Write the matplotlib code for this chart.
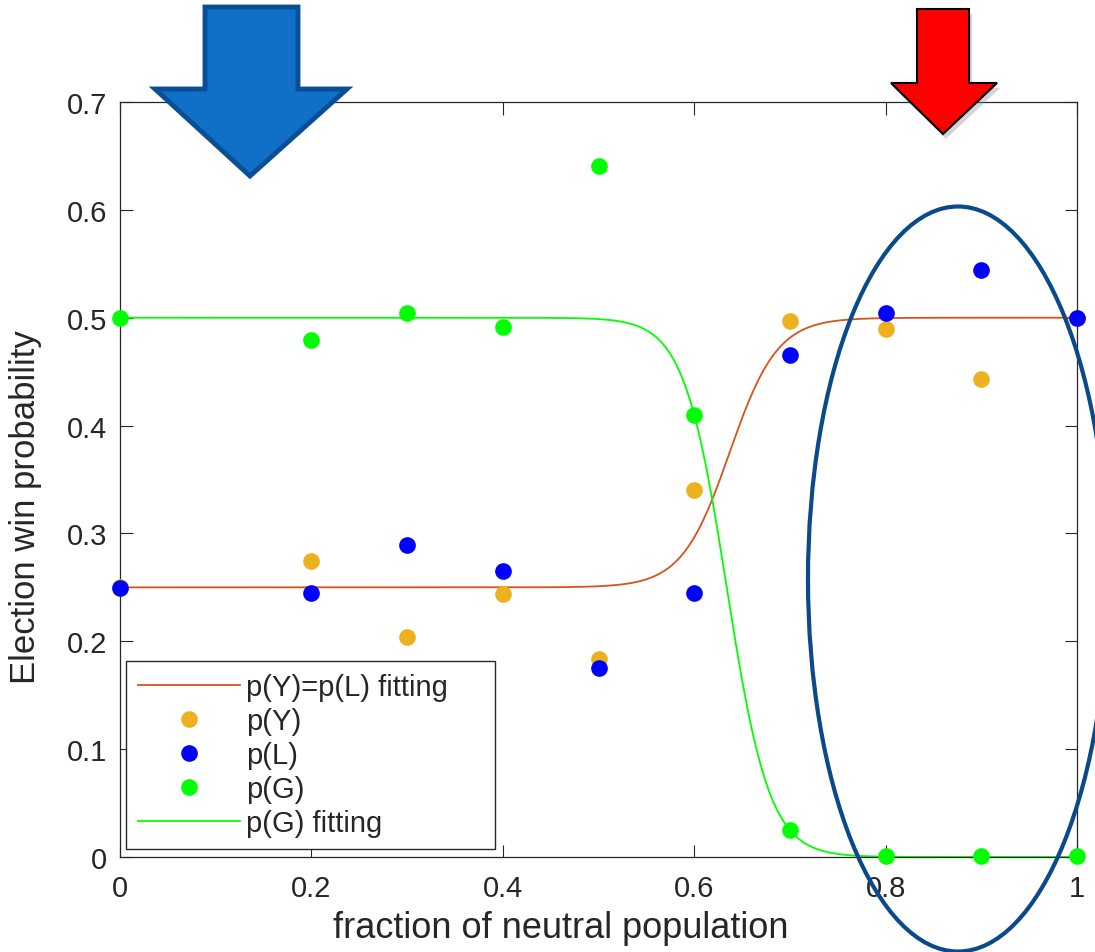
import numpy as np
import matplotlib.pyplot as plt
from matplotlib.patches import Polygon, Ellipse
from matplotlib.lines import Line2D

# fraction of neutral population
x = [0.0, 0.2, 0.3, 0.4, 0.5, 0.6, 0.7, 0.8, 0.9, 1.0]
p_Y = [0.25, 0.274, 0.204, 0.244, 0.184, 0.340, 0.497, 0.490, 0.443, 0.50]
p_L = [0.249, 0.245, 0.289, 0.265, 0.175, 0.245, 0.465, 0.504, 0.544, 0.50]
p_G = [0.50, 0.479, 0.504, 0.491, 0.641, 0.410, 0.025, 0.001, 0.001, 0.001]

# logistic fit parameters (low level, high level, centre, steepness)
fit_YL = (0.25, 0.50, 0.637, 40.0)
fit_G = (0.50, 0.0, 0.634, 44.6)

W, H = 1095, 953
plt.rcParams['font.family'] = ['Liberation Sans', 'DejaVu Sans']
fig = plt.figure(figsize=(W / 100, H / 100), dpi=100)
ax = fig.add_axes([120 / W, 1 - 858 / H, (1077 - 120) / W, (858 - 103) / H])


def logistic(xx, p):
    lo, hi, c, k = p
    return lo + (hi - lo) / (1 + np.exp(-k * (xx - c)))


MS = 12
xs = np.linspace(0, 1, 400)
ax.plot(xs, logistic(xs, fit_YL), color='#D95319', lw=1.3, zorder=2)
ax.plot(xs, logistic(xs, fit_G), color='#00FF00', lw=1.3, zorder=2)
ax.plot(x, p_Y, 'o', color='#EDB120', ms=MS, mec='none', zorder=3, clip_on=False)
ax.plot(x, p_L, 'o', color='#0000FF', ms=MS, mec='none', zorder=4, clip_on=False)
ax.plot(x, p_G, 'o', color='#00FF00', ms=MS, mec='none', zorder=5, clip_on=False)

ax.set_xlim(0, 1)
ax.set_ylim(0, 0.7)
ax.set_xticks([0, 0.2, 0.4, 0.6, 0.8, 1])
ax.set_xticklabels(['0', '0.2', '0.4', '0.6', '0.8', '1'])
ax.set_yticks(np.arange(0, 0.71, 0.1))
ax.set_yticklabels(['0', '0.1', '0.2', '0.3', '0.4', '0.5', '0.6', '0.7'])
ax.tick_params(direction='in', top=True, right=True, length=9, width=0.8,
               labelsize=21, colors='#262626')
ax.tick_params(axis='x', pad=12)
ax.tick_params(axis='y', pad=9)
for s in ax.spines.values():
    s.set_color('#262626')
    s.set_linewidth(0.9)
ax.set_xlabel('fraction of neutral population', fontsize=26, color='#262626')
ax.set_ylabel('Election win probability', fontsize=25, color='#262626')
ax.xaxis.set_label_coords(0.461, -0.07)
ax.yaxis.set_label_coords(-0.0815, 0.465)

handles = [
    Line2D([], [], color='#D95319', lw=1.3),
    Line2D([], [], ls='none', marker='o', color='#EDB120', ms=MS, mec='none'),
    Line2D([], [], ls='none', marker='o', color='#0000FF', ms=MS, mec='none'),
    Line2D([], [], ls='none', marker='o', color='#00FF00', ms=MS, mec='none'),
    Line2D([], [], color='#00FF00', lw=1.3),
]
labels = ['p(Y)=p(L) fitting', 'p(Y)', 'p(L)', 'p(G)', 'p(G) fitting']
leg = ax.legend(handles, labels, loc='lower left',
                bbox_to_anchor=(6 / 957, 8 / 755, 369 / 957, 189 / 755), mode='expand',
                borderaxespad=0, fontsize=21, handlelength=3.5, handletextpad=0.2,
                labelspacing=0.2, fancybox=False, edgecolor='#262626',
                borderpad=0.42, framealpha=1)
leg.get_frame().set_linewidth(1.0)
for t in leg.get_texts():
    t.set_color('#262626')


def fig_pts(pts):
    return [(px / W, 1 - py / H) for px, py in pts]


# blue arrow (annotation)
blue_arrow = [(205, 8), (298, 8), (298, 90), (347, 90), (250, 177),
              (155, 90), (205, 90)]
fig.patches.append(Polygon(fig_pts(blue_arrow), closed=True, transform=fig.transFigure,
                           facecolor='#1070C8', edgecolor='#0A4F96', lw=3.5, zorder=10))

# red arrow with soft shadow
red_arrow = [(917, 10), (969, 10), (969, 84), (997, 84), (943, 135),
             (891, 84), (917, 84)]
shadow = [(px + 3, py + 5) for px, py in red_arrow]
fig.patches.append(Polygon(fig_pts(shadow), closed=True, transform=fig.transFigure,
                           facecolor='#888888', edgecolor='none', alpha=0.35, zorder=9))
fig.patches.append(Polygon(fig_pts(red_arrow), closed=True, transform=fig.transFigure,
                           facecolor='#FF0000', edgecolor='black', lw=1.5, zorder=10))

# highlight ellipse
fig.patches.append(Ellipse((958 / W, 1 - 580 / H), 300 / W, 745 / H,
                           transform=fig.transFigure, fill=False,
                           edgecolor='#0B4A8A', lw=3, zorder=10))

fig.savefig('out.png', dpi=100)
